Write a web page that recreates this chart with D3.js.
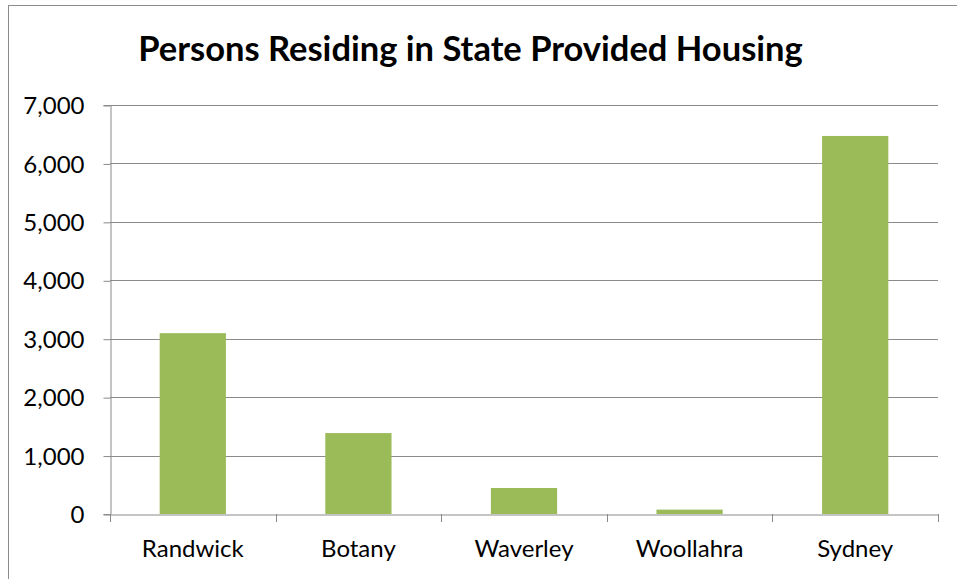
<!DOCTYPE html>
<html>
<head>
<meta charset="utf-8">
<script src="https://cdn.jsdelivr.net/npm/d3@7"></script>
<style>
  html, body { margin: 0; padding: 0; background: #fff; }
  svg { display: block; }
  text { font-family: Lato, "Open Sans", sans-serif; fill: #000; }
</style>
</head>
<body>
<svg id="chart" width="957" height="579"></svg>
<script>
// Persons residing in state provided housing, by local government area
const categories = ["Randwick", "Botany", "Waverley", "Woollahra", "Sydney"];
const persons = [3095, 1385, 445, 75, 6470];
const yTicks = [0, 1000, 2000, 3000, 4000, 5000, 6000, 7000];
const title = "Persons Residing in State Provided Housing";

const svg = d3.select("#chart");
const W = 957, H = 579;
const plot = { left: 110, right: 938, top: 105, bottom: 514 };

// chart frame
svg.append("rect")
  .attr("x", 8.5).attr("y", 5.5)
  .attr("width", W + 10).attr("height", H + 10)
  .attr("fill", "none").attr("stroke", "#8c8c8c").attr("stroke-width", 1);

const x = d3.scaleBand().domain(categories).range([plot.left, plot.right]).padding(0);
const y = d3.scaleLinear().domain([0, 7000]).range([plot.bottom, plot.top]);

const grid = "#8a8a8a";

// horizontal gridlines
svg.append("g")
  .selectAll("line")
  .data(yTicks.filter(d => d > 0))
  .join("line")
  .attr("x1", plot.left).attr("x2", plot.right)
  .attr("y1", d => Math.round(y(d)) + 0.5).attr("y2", d => Math.round(y(d)) + 0.5)
  .attr("stroke", grid).attr("stroke-width", 1);

// bars
const barW = x.bandwidth() * 0.4;
svg.append("g")
  .selectAll("rect")
  .data(categories.map((c, i) => ({ c, v: persons[i] })))
  .join("rect")
  .attr("x", d => x(d.c) + (x.bandwidth() - barW) / 2)
  .attr("width", barW)
  .attr("y", d => y(d.v))
  .attr("height", d => y(0) - y(d.v))
  .attr("fill", "#9bbb59");

// y axis
const yAxis = svg.append("g")
  .attr("transform", `translate(${plot.left + 0.5},0)`)
  .call(d3.axisLeft(y).tickValues(yTicks).tickSize(7).tickPadding(19)
    .tickFormat(d3.format(",")));
yAxis.selectAll("path, line").attr("stroke", grid);
yAxis.selectAll("text")
  .style("font-size", "24px")
  .attr("dy", "0.36em");
yAxis.selectAll(".tick line").attr("transform", "translate(0,0.5)");

// x axis
const xAxis = svg.append("g")
  .attr("transform", `translate(0,${Math.round(plot.bottom) + 0.5})`)
  .call(d3.axisBottom(x).tickSize(0).tickPadding(0).tickSizeOuter(0));
xAxis.select(".domain").attr("stroke", grid);
xAxis.selectAll(".tick line").remove();
xAxis.selectAll("text")
  .style("font-size", "24px")
  .attr("y", 42).attr("dy", 0);
// category boundary tick marks
svg.append("g")
  .selectAll("line")
  .data(categories.map(c => x(c)).concat([plot.right]))
  .join("line")
  .attr("x1", d => Math.round(d) + 0.5).attr("x2", d => Math.round(d) + 0.5)
  .attr("y1", Math.round(plot.bottom)).attr("y2", Math.round(plot.bottom) + 8)
  .attr("stroke", grid);

// title
svg.append("text")
  .attr("x", 470.5).attr("y", 61)
  .attr("text-anchor", "middle")
  .style("font-size", "34.5px").style("font-weight", "bold")
  .text(title);
</script>
</body>
</html>
